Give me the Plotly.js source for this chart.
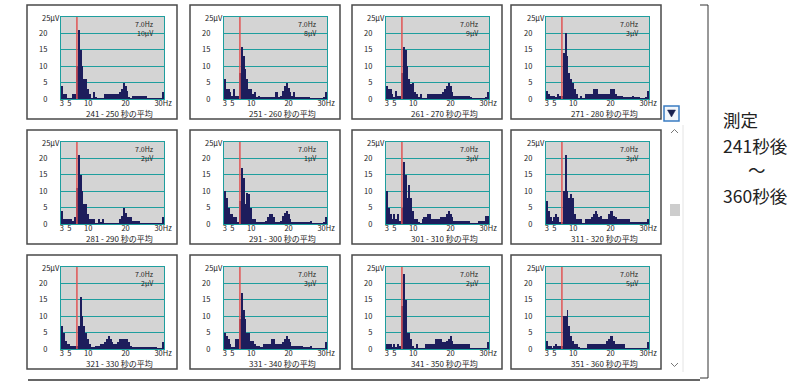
<!DOCTYPE html>
<html><head><meta charset="utf-8">
<script src="https://cdn.plot.ly/plotly-3.0.1.min.js"></script>
<style>html,body{margin:0;padding:0;background:#fff;}#chart{width:800px;height:385px;}</style>
</head><body><div id="chart"></div>
<script>
// ---- data ----
const freqBins = Array.from({length:55}, (_, i) => 3 + 0.5 * i); // FFT bin centres, Hz
const periodLabels = ['241 - 250','251 - 260','261 - 270','271 - 280','281 - 290','291 - 300','301 - 310','311 - 320','321 - 330','331 - 340','341 - 350','351 - 360'];
const peakFreq = 7.0;
const peakFreqLabel = '7.0Hz';
const peakAmpLabels = ['10μV','8μV','9μV','3μV','2μV','1μV','3μV','3μV','2μV','3μV','2μV','5μV'];
const xTickVals = [3,5,10,20,30];
const xTickText = ['3','5','10','20','30Hz'];
const yTickVals = [0,5,10,15,20];

const s241 = [4,1.5,1.5,0.3,0.3,0.3,1.5,1.5, 10,21,15,10,6,6,3,1.5, 0.2,2,0.5,0.3,0.3,0.3,0.3,1.5, 1.5,1.5,1.5,1.5,1.5,1.5,1.5,2, 3,5,4,2.5,0.5,0.3,1,1, 1,1,1,1,1,1,0.3,0.3, 0.3,0.3,0.3,0.3,0.3,0.3,2];
const s251 = [6,3,3,2,1,3,1,1, 8,16,13,9,6,3,3,1.5, 2,0.5,1,0.5,0.5,0.5,0.5,0.5, 0.5,0.5,0.5,2,2,0.5,1,2.5, 4,5,3.5,2,1,2,0.5,0.5, 0.5,0.5,0.5,0.5,0.5,0.5,0.2,0.2, 0.2,0.2,0.2,0.2,0.2,0.5,2];
const s261 = [4,3,3,1.5,0.5,2.5,1,1, 8,16,15,10,6,4.5,5,2, 1.5,0.5,1.5,0.2,0.2,0.2,1.5,1.5, 1.5,1.5,1.5,1.5,1.5,1.5,2,3, 4,5,4,2,1,1,1,1, 1,1,1,1,1,0.5,0.3,0.3, 0.3,0.3,0.3,0.3,0.3,0.5,2];
const s271 = [2.5,1.5,1,1,1,0.5,1.5,1, 1,14,20,13,8,6,5,3, 1.5,0.2,1,0.2,0.2,1.5,1.5,1.5, 1.5,3,3,3,1.5,1.5,1.5,1.5, 1.5,1.5,3,3,3,1.5,1,1, 1,0.5,0.5,0.5,0.5,0.5,1,0.5, 0.5,0.5,0.2,0.2,0.2,0.5,2.5];
const s281 = [4,1.5,1.5,1.5,1.5,1.5,1,2, 11,21,15,10,6,6,3,1.5, 1.5,1.5,0.3,0.3,1.5,0.5,1.5,0.2, 0.2,0.2,0.2,0.2,0.2,0.2,0.2,1.5, 2.5,5,3.5,2,2,2,1,1, 1,1,0.3,0.3,0.3,0.3,0.3,0.3, 0.3,0.3,0.3,0.3,0.3,0.3,2];
const s291 = [10,8,5,3,3,2,2,0.5, 7,17,14,6,9.5,9,5,1.5, 1.5,0.5,0.5,0.5,0.5,0.5,1,2, 3,3,2,0.5,0.5,0.5,1,2.5, 3.5,4,3,1.5,0.5,0.5,0.5,0.5, 0.5,0.5,0.5,0.5,0.5,0.5,1,0.2, 0.2,0.2,0.2,0.2,0.2,0.5,2];
const s301 = [10,5,3,1.5,3,1.5,3,1, 5,19,15,8,12,8,4,1.5, 1.5,0.5,0.3,1.5,2,2,3,3, 1.5,1.5,1.5,1.5,1.5,2,2,2, 3,4,3,2,1,1,1,1, 1,1,1,1,1,0.3,0.3,0.3, 0.3,1,1,1,1,2.5,2.5];
const s311 = [7,4,2,1,2,3,2,0.5, 0.5,10,21,10,8,9,8,3, 1.5,1.5,1.5,0.3,0.3,1.5,1.5,1.5, 2,3,4,3,2,2.5,1.5,1.5, 1.5,3,4,4,2.5,2,1.5,1.5, 1.5,1.5,1.5,1.5,1.5,0.5,0.5,0.5, 0.5,0.5,0.5,0.5,0.5,0.5,1.5];
const s321 = [7,5,2.5,1.5,1.5,1,1,1, 1,7,16,10,7,5,3,1.5, 0.5,0.5,1,1,1,1.5,1.5,2, 3,4,3,2,1.5,1.5,2,3, 3,3,3,3,2,1,0.5,0.5, 0.5,0.5,0.5,0.5,0.5,0.5,0.5,0.5, 0.5,0.5,0.5,0.2,0.2,0.2,2];
const s331 = [5,4,3,1.5,0.5,0.5,3,3, 9,17,12,9,5,5,2.5,2.5, 1.5,1,1,0.5,0.5,1.5,1.5,1.5, 1.5,3,3,1.5,1.5,1.5,1.5,2, 3,4,3,2,1,1,1,1, 1,1,0.5,0.5,0.5,0.5,1,0.3, 0.3,0.3,0.3,0.3,0.3,0.3,2];
const s341 = [1.5,1.5,1.5,0.5,1.5,0.5,1.5,1, 13,23,15,5,5,3,1,0.3, 1.5,0.2,0.2,0.2,0.2,1.5,1.5,1.5, 1.5,1.5,3,3,3,3,2,2, 2.5,3,4,2.5,1.5,1.5,1.5,1.5, 1.5,1.5,1.5,1.5,1.5,0.3,0.3,0.3, 0.3,0.3,0.3,0.3,0.3,0.3,2];
const s351 = [2.5,1,1,0.3,1,1.5,1,1, 1,10,10,12,7,4,2.5,1.5, 1.5,0.5,0.3,0.3,0.3,0.3,1.5,1.5, 1.5,1.5,1.5,1.5,1.5,1.5,1.5,1.5, 2.5,3,4,4,2.5,1.5,1.5,1.5, 1.5,1.5,0.3,0.3,0.3,0.3,0.3,0.3, 0.3,0.3,0.3,0.3,0.3,0.3,2];
const spectra = [s241,s251,s261,s271,s281,s291,s301,s311,s321,s331,s341,s351];

// ---- styling / geometry ----
const W = 800, H = 385;
const FONT = '"Noto Sans CJK JP", "DejaVu Sans", sans-serif';
const TEAL = '#1f9e9e', NAVY = '#1d1d5c', RED = '#e05454', TXT = '#222222';
const colLeft = [61, 224, 386, 546], rowTop = [17, 142, 267], pw = 103, ph = 82;
const frameLeft = [27, 190, 352, 511], frameTop = [5, 130, 255], fw = 150, fh = 114;
const px = p => p / W, py = p => 1 - p / H;

const data = [], shapes = [], annotations = [];
const layout = {
  width: W, height: H, margin: {l:0, r:0, t:0, b:0},
  paper_bgcolor: '#ffffff', plot_bgcolor: '#d4d4d4',
  showlegend: false, bargap: 0, font: {family: FONT, color: TXT, size: 7},
  shapes, annotations
};

spectra.forEach((vals, k) => {
  const r = Math.floor(k / 4), c = k % 4;
  const ax = k === 0 ? '' : String(k + 1);
  const l = colLeft[c], t = rowTop[r];
  layout['xaxis' + ax] = {
    domain: [px(l), px(l + pw)], anchor: 'y' + ax, range: [2.75, 30.25],
    tickmode: 'array', tickvals: xTickVals, ticktext: xTickText,
    showgrid: false, zeroline: false, showline: true, mirror: true,
    linecolor: TEAL, linewidth: 1.2, ticks: '', ticklabelstandoff: -3,
    tickfont: {size: 7.5, color: TXT, family: FONT}, fixedrange: true, layer: 'below traces'
  };
  layout['yaxis' + ax] = {
    domain: [py(t + ph), py(t)], anchor: 'x' + ax, range: [0, 25],
    tickmode: 'array', tickvals: yTickVals,
    showgrid: true, gridcolor: TEAL, gridwidth: 1.3, zeroline: false,
    showline: true, mirror: true, linecolor: TEAL, linewidth: 1.2,
    ticks: '', ticklabelstandoff: 11,
    tickfont: {size: 7.5, color: TXT, family: FONT}, fixedrange: true, layer: 'below traces'
  };
  data.push({
    type: 'bar', x: freqBins, y: vals, width: 0.5,
    xaxis: 'x' + ax, yaxis: 'y' + ax,
    marker: {color: NAVY, line: {width: 0}}, hoverinfo: 'skip'
  });
  // frame
  const fl = frameLeft[c], ft = frameTop[r];
  shapes.push({type:'rect', xref:'paper', yref:'paper', x0:px(fl), x1:px(fl+fw), y0:py(ft), y1:py(ft+fh),
    line:{color:'#4a4a4a', width:1.5}, fillcolor:'rgba(0,0,0,0)', layer:'below'});
  // peak frequency marker
  shapes.push({type:'line', xref:'x'+ax, yref:'y'+ax+' domain', x0:peakFreq, x1:peakFreq, y0:0, y1:1,
    line:{color:RED, width:1.5}});
  // texts
  annotations.push({xref:'paper', yref:'paper', x:px(l+1), y:py(t), xanchor:'right', yanchor:'middle',
    text:'25μV', showarrow:false, font:{size:7.5, color:TXT, family:FONT}});
  annotations.push({xref:'paper', yref:'paper', x:px(l+pw-8), y:py(t+7), xanchor:'right', yanchor:'middle',
    text:peakFreqLabel, showarrow:false, font:{size:7, color:TXT, family:FONT}});
  annotations.push({xref:'paper', yref:'paper', x:px(l+pw-8), y:py(t+16), xanchor:'right', yanchor:'middle',
    text:peakAmpLabels[k], showarrow:false, font:{size:7, color:TXT, family:FONT}});
  annotations.push({xref:'paper', yref:'paper', x:px(l+pw/2+7), y:py(t+ph+14), xanchor:'center', yanchor:'middle',
    text:periodLabels[k] + ' 秒の平均', showarrow:false, borderpad:0, font:{size:8, color:TXT, family:FONT}});
});

// scroll bar bits
shapes.push({type:'line', xref:'paper', yref:'paper', x0:px(683), x1:px(683), y0:py(125), y1:py(372), line:{color:'#e4e4e4', width:1}});
shapes.push({type:'rect', xref:'paper', yref:'paper', x0:px(664), x1:px(679), y0:py(106), y1:py(121),
  line:{color:'#3a7cc2', width:1.5}, fillcolor:'#f3f7fb'});
shapes.push({type:'path', xref:'paper', yref:'paper',
  path:`M ${px(667.5)} ${py(110)} L ${px(675.5)} ${py(110)} L ${px(671.5)} ${py(117)} Z`,
  fillcolor:'#1a2350', line:{color:'#1a2350', width:0.5}});
shapes.push({type:'path', xref:'paper', yref:'paper',
  path:`M ${px(671)} ${py(133)} L ${px(674.5)} ${py(129.5)} L ${px(678)} ${py(133)}`,
  line:{color:'#777', width:1}});
shapes.push({type:'path', xref:'paper', yref:'paper',
  path:`M ${px(671)} ${py(363)} L ${px(674.5)} ${py(366.5)} L ${px(678)} ${py(363)}`,
  line:{color:'#777', width:1}});
shapes.push({type:'rect', xref:'paper', yref:'paper', x0:px(670), x1:px(680), y0:py(204), y1:py(216),
  line:{width:0}, fillcolor:'#cdcdcd'});
// bottom rule and bracket
shapes.push({type:'line', xref:'paper', yref:'paper', x0:px(28), x1:px(700), y0:py(380), y1:py(380), line:{color:'#333', width:1.5}});
shapes.push({type:'path', xref:'paper', yref:'paper',
  path:`M ${px(700)} ${py(5)} L ${px(708)} ${py(5)} L ${px(708)} ${py(378)} L ${px(700)} ${py(378)}`,
  line:{color:'#333', width:1}});
// right-hand caption
const sideFont = {size:17.5, color:'#222', family:FONT};
annotations.push({xref:'paper', yref:'paper', x:px(721), y:py(119), xanchor:'left', yanchor:'middle', text:'測定', showarrow:false, font:sideFont});
annotations.push({xref:'paper', yref:'paper', x:px(721), y:py(145), xanchor:'left', yanchor:'middle', text:'241秒後', showarrow:false, font:sideFont});
annotations.push({xref:'paper', yref:'paper', x:px(757), y:py(170), xanchor:'center', yanchor:'middle', text:'～', showarrow:false, font:sideFont});
annotations.push({xref:'paper', yref:'paper', x:px(721), y:py(196), xanchor:'left', yanchor:'middle', text:'360秒後', showarrow:false, font:sideFont});

Plotly.newPlot('chart', data, layout, {staticPlot: true, displayModeBar: false});
</script>
</body></html>
